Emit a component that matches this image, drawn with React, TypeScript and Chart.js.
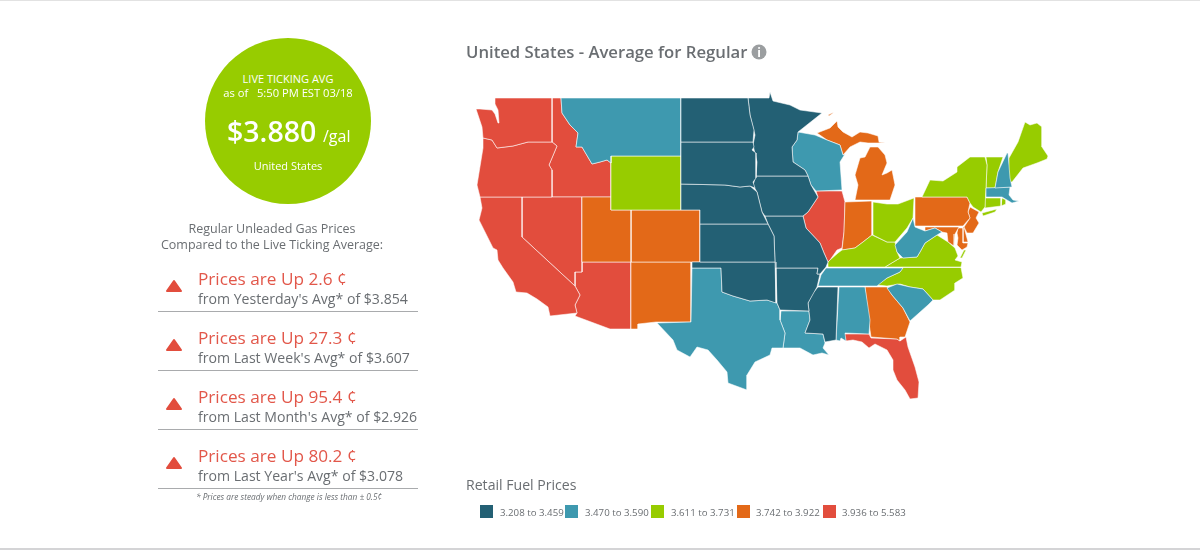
import { useEffect, useRef } from 'react';
import { Chart, registerables } from 'chart.js';

Chart.register(...registerables);

type Outline = number[][];

// state outlines, in the map's own units
const WA: Outline = [[495,98],[552,98],[552,142],[528,142],[513,146],[497,148],[492,140],[483,138],[482,127],[476,109],[480,109],[492,110],[495,114],[498,123],[499,123],[498,110],[495,104]];
const OR: Outline = [[483,138],[492,140],[497,148],[513,146],[528,142],[552,142],[557,146],[549,165],[552,170],[552,197],[480,197],[477,185],[483,148]];
const CA: Outline = [[480,197],[522,197],[522,237],[575,286],[580,295],[575,305],[577,313],[550,316],[548,307],[537,299],[527,293],[516,292],[513,282],[503,268],[498,260],[497,250],[493,248],[485,232],[479,220],[482,208]];
const NV: Outline = [[522,197],[582,197],[582,272],[575,272],[575,286],[522,237]];
const ID: Outline = [[552,98],[561,98],[562,113],[570,125],[578,133],[576,147],[582,147],[592,164],[600,162],[607,160],[611,163],[611,197],[552,197],[552,170],[549,165],[557,146],[552,142]];
const MT: Outline = [[561,98],[681,98],[681,156],[611,156],[611,163],[607,160],[600,162],[592,164],[582,147],[576,147],[578,133],[570,125],[562,113]];
const WY: Outline = [[611,156],[681,156],[681,210],[611,210]];
const UT: Outline = [[582,197],[611,197],[611,210],[631,210],[631,262],[582,262]];
const CO: Outline = [[631,210],[700,210],[700,262],[631,262]];
const AZ: Outline = [[582,262],[631,262],[631,329],[610,329],[575,316],[577,313],[575,305],[580,295],[575,286],[575,272],[582,272]];
const NM: Outline = [[631,262],[691,262],[691,322],[656,322],[638,324],[638,329],[631,329]];
const TX: Outline = [[692,268],[721,268],[722,292],[733,296],[750,301],[767,300],[777,303],[780,310],[780,320],[785,333],[783,348],[772,348],[770,355],[755,362],[747,375],[747,390],[728,383],[727,372],[717,360],[708,350],[697,347],[690,357],[677,350],[673,340],[657,323],[691,322]];
const OK: Outline = [[692,262],[775,262],[776,303],[767,300],[750,301],[733,296],[722,292],[721,268],[692,268]];
const KS: Outline = [[700,224],[768,224],[772,232],[774,236],[775,262],[700,262]];
const NE: Outline = [[681,184],[725,185],[740,187],[750,186],[757,192],[762,212],[768,224],[700,224],[700,210],[681,210]];
const SD: Outline = [[681,142],[753,142],[754,147],[752,150],[756,153],[756,178],[753,182],[755,188],[750,186],[740,187],[725,185],[681,184]];
const ND: Outline = [[681,98],[748,98],[750,115],[754,130],[753,142],[681,142]];
const MN: Outline = [[748,98],[769,98],[770,92],[773,101],[790,105],[800,110],[822,113],[798,132],[797,140],[792,147],[793,162],[805,170],[808,176],[756,176],[757,162],[753,145],[755,135],[750,115]];
const IA: Outline = [[756,176],[808,176],[811,185],[818,197],[808,212],[803,216],[765,216],[762,212],[757,192],[753,185]];
const WI: Outline = [[798,132],[815,135],[827,140],[840,145],[843,155],[845,154],[840,162],[842,190],[816,191],[811,185],[808,176],[805,170],[793,162],[792,147],[797,140]];
const MO: Outline = [[765,216],[803,216],[806,228],[820,243],[824,253],[828,262],[826,267],[820,274],[817,274],[818,268],[776,268],[775,262],[774,236],[772,232],[768,224]];
const IL: Outline = [[816,191],[842,191],[845,202],[844,232],[842,248],[837,250],[830,260],[828,262],[824,253],[820,243],[806,228],[803,216],[808,212],[818,197]];
const IN: Outline = [[845,202],[872,201],[872,235],[863,242],[855,248],[842,250],[844,232]];
const OH: Outline = [[873,202],[887,204],[898,204],[914,198],[913,218],[907,228],[895,242],[887,242],[873,235]];
const MI_LOWER: Outline = [[870,147],[878,147],[885,155],[887,163],[882,175],[887,173],[892,170],[895,185],[890,200],[855,200],[858,185],[855,175],[860,158],[865,157]];
const MI_UPPER: Outline = [[817,133],[830,128],[837,121],[838,127],[843,132],[852,137],[860,132],[868,133],[878,136],[879,142],[885,142],[878,143],[868,143],[860,142],[850,147],[843,155],[840,145],[827,140]];
const MI_ISLE: Outline = [[828,115],[834,112],[833,113],[829,116]];
const KY: Outline = [[828,267],[828,262],[830,260],[838,253],[842,250],[855,248],[863,242],[872,235],[887,242],[895,242],[897,252],[900,258],[885,267]];
const TN: Outline = [[826,268],[903,268],[900,272],[887,278],[877,286],[818,286],[821,275]];
const NC: Outline = [[903,267.5],[961,267.5],[963,278],[955,283],[955,290],[940,300],[933,300],[923,289],[910,287],[900,284],[887,286],[877,285],[887,278],[900,272]];
const VA: Outline = [[885,267],[900,258],[917,257],[920,252],[925,243],[937,235],[948,242],[955,248],[958,256],[955,260],[962,262],[961,267]];
const VA_SHORE: Outline = [[966,250],[964,250],[960,258],[962,258]];
const WV: Outline = [[895,245],[907,232],[913,218],[915,227],[925,231],[935,228],[942,232],[937,235],[925,243],[920,252],[917,257],[903,258],[897,252]];
const PA: Outline = [[915,197],[967,197],[970,203],[968,212],[970,218],[963,226],[915,226]];
const NJ: Outline = [[970,207],[979,212],[976,218],[979,223],[973,233],[967,233],[964,227],[970,218],[968,212]];
const MD_WEST: Outline = [[925,227],[959,227],[955,234],[954,246],[948,242],[947,233],[942,232],[935,228],[925,231]];
const MD_SHORE: Outline = [[958,228],[963,228],[963,243],[968,243],[967,247],[962,250],[957,245],[958,238],[957,233]];
const DE: Outline = [[963,227],[964,227],[968,242],[963,242]];
const NY: Outline = [[922,197],[930,180],[943,181],[957,172],[957,167],[970,157],[985,157],[987,165],[986,188],[985,207],[981,212],[973,207],[970,203],[967,197]];
const NY_LONG_ISLAND: Outline = [[982,213],[997,209],[995,212],[983,216]];
const VT: Outline = [[986,157],[1003,157],[998,172],[995,188],[986,188],[987,165]];
const NH: Outline = [[1007,153],[1008,153],[1010,178],[1012,187],[995,188],[998,172]];
const ME: Outline = [[1008,182],[1009,158],[1018,142],[1025,122],[1030,125],[1037,123],[1042,127],[1042,147],[1048,156],[1047,159],[1037,163],[1023,168],[1012,182]];
const MA: Outline = [[986,188],[1010,187],[1009,195],[1013,200],[1019,201],[1012,203],[1007,200],[1002,197],[986,197]];
const CT: Outline = [[985,198],[1001,198],[1001,206],[985,208]];
const RI: Outline = [[1002,198],[1006,200],[1006,204],[1001,206]];
const MS: Outline = [[818,287],[838,287],[836,340],[825,342],[823,334],[805,333],[810,320],[808,303],[813,293]];
const AR: Outline = [[776,268],[818,268],[817,274],[820,274],[817,287],[808,303],[809,311],[780,310],[777,303]];
const LA: Outline = [[781,311],[809,311],[810,320],[805,333],[823,334],[825,343],[823,348],[829,355],[822,353],[813,355],[800,348],[788,348],[783,348],[785,333],[780,320]];
const AL: Outline = [[839,287],[865,287],[870,320],[869,334],[845,333],[846,341],[841,338],[840,341],[836,340]];
const GA: Outline = [[865,287],[887,287],[892,295],[903,308],[910,322],[905,337],[900,337],[900,341],[897,339],[871,337],[869,323]];
const SC: Outline = [[887,288],[897,284],[910,287],[923,289],[933,300],[928,305],[910,321],[903,308],[892,295]];
const FL: Outline = [[844,334],[869,334],[871,338],[897,339],[900,341],[906,337],[908,347],[915,367],[919,382],[918,398],[910,399],[905,390],[897,380],[893,370],[893,360],[887,350],[875,344],[869,348],[862,342],[853,340],[846,341]];

// the five price bins
const binLabels = ['3.208 to 3.459', '3.470 to 3.590', '3.611 to 3.731', '3.742 to 3.922', '3.936 to 5.583'];
const binColors = ['#236074', '#3e99af', '#97cc00', '#e36918', '#e24d3d'];
const binStates: Outline[][] = [
  [ND, SD, NE, KS, OK, MN, IA, MO, AR, MS],
  [MT, TX, WI, LA, AL, TN, WV, SC, NH, MA],
  [WY, OH, KY, VA, VA_SHORE, NC, NY, NY_LONG_ISLAND, VT, ME, CT, RI],
  [UT, CO, NM, MI_LOWER, MI_UPPER, MI_ISLE, IN, GA, PA, NJ, MD_WEST, MD_SHORE, DE],
  [WA, OR, CA, NV, ID, AZ, IL, FL],
];

const comparePeriods = ["Yesterday's", "Last Week's", "Last Month's", "Last Year's"];
const compareChanges = ['2.6', '27.3', '95.4', '80.2'];
const compareAverages = ['$3.854', '$3.607', '$2.926', '$3.078'];

const font = '"Open Sans", sans-serif';
const grey = '#6a6e72';

function abs(left: number, centerY: number, extra: React.CSSProperties = {}): React.CSSProperties {
  return { position: 'absolute', left, top: centerY, transform: 'translateY(-50%)', whiteSpace: 'nowrap', lineHeight: 1, ...extra };
}

function centered(centerX: number, centerY: number, extra: React.CSSProperties = {}): React.CSSProperties {
  return { ...abs(centerX, centerY), transform: 'translate(-50%,-50%)', ...extra };
}

export default function App() {
  const chartRef = useRef<HTMLCanvasElement>(null);

  useEffect(() => {
    if (!chartRef.current) return;
    const datasets = binStates.flatMap((states, i) =>
      states.map((outline) => ({
        data: [...outline, outline[0]],
        showLine: true,
        fill: 'shape',
        backgroundColor: binColors[i],
        borderColor: 'rgba(255,255,255,0.55)',
        borderWidth: 1,
        borderJoinStyle: 'round' as const,
        pointRadius: 0,
        tension: 0,
      }))
    );
    const chart = new Chart(chartRef.current, {
      type: 'scatter',
      data: { datasets: datasets as any },
      options: {
        responsive: false,
        animation: false,
        layout: { padding: 0 },
        plugins: { legend: { display: false }, tooltip: { enabled: false } },
        scales: {
          x: { type: 'linear', display: false, min: 0, max: 1200 },
          y: { type: 'linear', display: false, min: 0, max: 550, reverse: true },
        },
      },
    });
    return () => chart.destroy();
  }, []);

  return (
    <div style={{ position: 'fixed', left: 0, top: 0, width: 1200, height: 550, overflow: 'hidden', background: '#fff', fontFamily: font, color: grey }}>
      <canvas ref={chartRef} width={1200} height={550} style={{ position: 'absolute', left: 0, top: 0, width: 1200, height: 550 }} />
      <div style={{ position: 'absolute', left: 0, top: 0, width: 1200, height: 1, background: '#e2e2e2' }} />
      <div style={{ position: 'absolute', left: 0, top: 548, width: 1200, height: 2, background: '#d4d4d6' }} />

      <div style={{ position: 'absolute', left: 205, top: 38, width: 166, height: 166, borderRadius: '50%', background: binColors[2] }} />
      <div style={centered(288, 78, { color: '#fff', fontSize: 11 })}>LIVE TICKING AVG</div>
      <div style={centered(288, 93, { color: '#fff', fontSize: 11.2 })}>as of &nbsp; 5:50 PM EST 03/18</div>
      <div style={abs(227, 131, { color: '#fff', fontSize: 28.5, fontWeight: 600 })}>$3.880</div>
      <div style={abs(323, 136, { color: '#fff', fontSize: 16 })}>/gal</div>
      <div style={centered(288, 165, { color: '#fff', fontSize: 11 })}>United States</div>

      <div style={centered(272, 229, { fontSize: 12.5 })}>Regular Unleaded Gas Prices</div>
      <div style={centered(272, 245, { fontSize: 12.5 })}>Compared to the Live Ticking Average:</div>

      {comparePeriods.map((period, i) => {
        const y = [279, 338, 397, 456][i];
        return (
          <div key={period}>
            <svg style={{ position: 'absolute', left: 165, top: y, width: 18, height: 14 }} viewBox="0 0 18 14">
              <path d="M9 2 L16 12 L2 12 Z" fill={binColors[4]} stroke={binColors[4]} strokeWidth={2} strokeLinejoin="round" />
            </svg>
            <div style={abs(198, y, { color: '#e2574a', fontSize: 17.2 })}>Prices are Up {compareChanges[i]} ¢</div>
            <div style={abs(198, y + 19.5, { fontSize: 14.1 })}>from {period} Avg* of {compareAverages[i]}</div>
            <div style={{ position: 'absolute', left: 158, top: y + 32, width: 260, height: 1, background: '#a9abad' }} />
          </div>
        );
      })}
      <div style={centered(289, 497, { fontSize: 8.3, fontStyle: 'italic' })}>* Prices are steady when change is less than ± 0.5¢</div>

      <div style={abs(466, 52, { fontSize: 16.7, fontWeight: 600 })}>United States - Average for Regular</div>
      <div style={{ ...centered(759, 52), width: 15, height: 15, borderRadius: '50%', background: '#9b9ea0', color: '#fff', fontSize: 12, fontWeight: 700, textAlign: 'center', lineHeight: '15px' }}>i</div>

      <div style={abs(466, 485, { fontSize: 14.1 })}>Retail Fuel Prices</div>
      {binLabels.map((label, i) => (
        <div key={label}>
          <div style={{ position: 'absolute', left: [480, 565, 651, 737, 823][i], top: 505, width: 13, height: 13, background: binColors[i] }} />
          <div style={abs([500, 585, 671, 756, 842][i], 513, { fontSize: 9.7 })}>{label}</div>
        </div>
      ))}
    </div>
  );
}
